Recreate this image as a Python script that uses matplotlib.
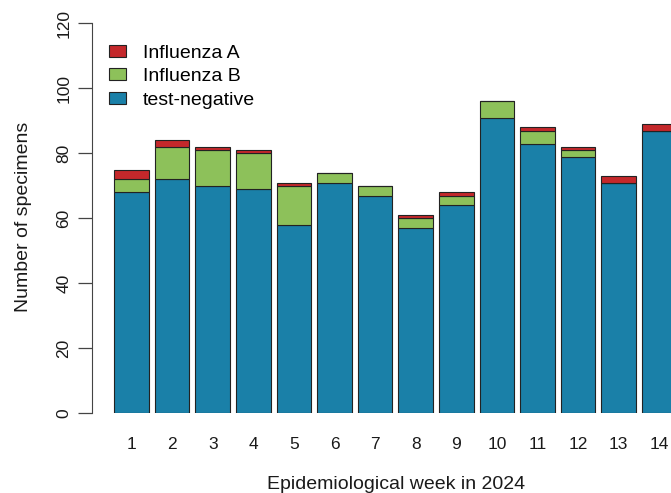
import numpy as np
import matplotlib.pyplot as plt
from matplotlib.patches import Patch

plt.rcParams['font.family'] = ['Liberation Sans', 'DejaVu Sans']

weeks = np.arange(1, 15)
week_labels = [str(w) for w in weeks]
test_negative = [68, 72, 70, 69, 58, 71, 67, 57, 64, 91, 83, 79, 71, 87]
influenza_b = [4, 10, 11, 11, 12, 3, 3, 3, 3, 5, 4, 2, 0, 0]
influenza_a = [3, 2, 1, 1, 1, 0, 0, 1, 1, 0, 1, 1, 2, 2]

c_neg = '#1a80a8'
c_b = '#8dc15a'
c_a = '#c4282b'

fig = plt.figure(figsize=(6.71, 4.93), dpi=100)
ax = fig.add_axes([92/671, 1-413.3/493, 1-92/671, 390/493])

neg = np.array(test_negative)
b = np.array(influenza_b)
a = np.array(influenza_a)
w = 0.85
kw = dict(width=w, edgecolor='#222222', linewidth=0.8)
ax.bar(weeks, neg, color=c_neg, **kw)
ax.bar(weeks, b, bottom=neg, color=c_b, **kw)
ax.bar(weeks, a, bottom=neg + b, color=c_a, **kw)

ax.set_xlim(0.027, 14.29)
ax.set_ylim(0, 120)
for s in ['top', 'right', 'bottom']:
    ax.spines[s].set_visible(False)
ax.spines['left'].set_color('#444444')
ax.set_yticks(np.arange(0, 121, 20))
ax.set_yticklabels([str(v) for v in range(0, 121, 20)], rotation=90, va='center', fontsize=12.5)
ax.tick_params(axis='y', length=10, width=0.9, color='#444444', pad=5, labelcolor='#1a1a1a')
ax.set_xticks(weeks)
ax.set_xticklabels(week_labels, fontsize=12.5, color='#1a1a1a')
ax.tick_params(axis='x', length=0, pad=17)

fig.text(396/671, 1-489/493, 'Epidemiological week in 2024', ha='center', va='baseline', fontsize=14, color='#1a1a1a')
fig.text(24/671, 1-217/493, 'Number of specimens', ha='center', va='center', rotation=90, fontsize=14, color='#1a1a1a')

handles = [Patch(facecolor=c_a, edgecolor='#222222', linewidth=0.8),
           Patch(facecolor=c_b, edgecolor='#222222', linewidth=0.8),
           Patch(facecolor=c_neg, edgecolor='#222222', linewidth=0.8)]
ax.legend(handles, ['Influenza A', 'Influenza B', 'test-negative'], loc='upper left',
          bbox_to_anchor=(91/671, 1-27/493), bbox_transform=fig.transFigure,
          frameon=False, fontsize=14, handlelength=0.88, handleheight=0.57,
          handletextpad=0.9, labelspacing=0.35)

fig.savefig('out.png', dpi=100)
